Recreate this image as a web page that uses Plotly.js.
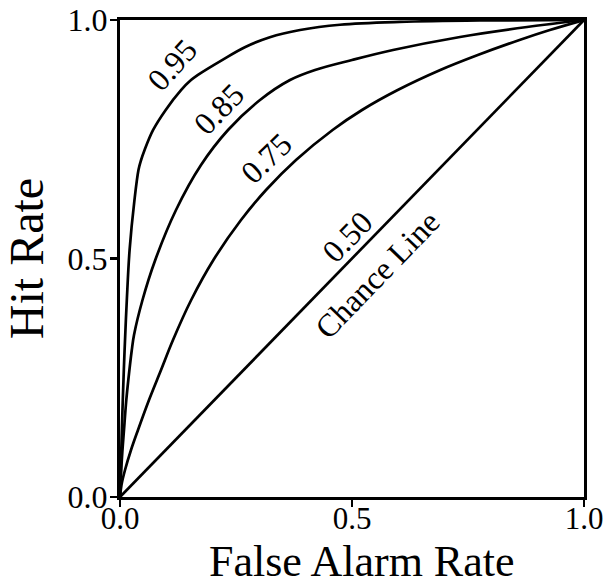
<!DOCTYPE html>
<html>
<head>
<meta charset="utf-8">
<script src="https://cdn.plot.ly/plotly-3.0.1.min.js"></script>
<style>html,body{margin:0;padding:0;background:#fff;}#chart{width:609px;height:586px;}</style>
</head>
<body>
<div id="chart"></div>
<script>
// False alarm rate (x) and hit rate (y), one pair of arrays per curve
const fa95  = [0, 0.0028, 0.006, 0.0099, 0.0147, 0.0207, 0.0312, 0.0399, 0.0453, 0.0528, 0.0711, 0.0981, 0.1315, 0.153, 0.168, 0.220, 0.269, 0.323, 0.388, 0.474, 0.603, 0.776, 1];
const hit95 = [0, 0.0985, 0.203, 0.308, 0.413, 0.518, 0.623, 0.686, 0.706, 0.727, 0.769, 0.811, 0.853, 0.874, 0.885, 0.916, 0.943, 0.964, 0.979, 0.990, 0.996, 0.999, 1];

const fa85  = [0, 0.0039, 0.0086, 0.0136, 0.0179, 0.0254, 0.0302, 0.0485, 0.0760, 0.1207, 0.1746, 0.2328, 0.3017, 0.3664, 0.4203, 0.5, 0.5884, 0.7328, 0.8772, 1];
const hit85 = [0, 0.0776, 0.1405, 0.2034, 0.2453, 0.3082, 0.3396, 0.4130, 0.4969, 0.6017, 0.6960, 0.7694, 0.8323, 0.8742, 0.8952, 0.9161, 0.9371, 0.9644, 0.9853, 1];

const fa75  = [0, 0.0032, 0.0108, 0.0237, 0.0388, 0.0625, 0.0884, 0.1142, 0.1534, 0.2013, 0.2608, 0.3147, 0.3793, 0.4582, 0.5216, 0.5985, 0.6903, 0.7711, 0.8610, 0.9263, 1];
const hit75 = [0, 0.0252, 0.0566, 0.0985, 0.1405, 0.2034, 0.2662, 0.3291, 0.4130, 0.4969, 0.5807, 0.6436, 0.7065, 0.7694, 0.8113, 0.8532, 0.8952, 0.9266, 0.9581, 0.9790, 1];

const fa50  = [0, 1];
const hit50 = [0, 1];

const tickVals = [0, 0.5, 1];
const tickText = ["0.0", "0.5", "1.0"];

const labelText  = ["0.95", "0.85", "0.75", "0.50", "Chance Line"];
const labelX     = [0.112, 0.213, 0.315, 0.489, 0.556];
const labelY     = [0.906, 0.813, 0.711, 0.546, 0.467];
const labelAngle = [-48, -46, -44, -46, -46];

const xTitle = "False Alarm Rate";
const yTitle = "Hit Rate";

const FONT = "Liberation Serif, Times New Roman, serif";
const lineStyle = {color: "#000", width: 2.7, shape: "spline", smoothing: 1};

const traces = [
  {x: fa95, y: hit95},
  {x: fa85, y: hit85},
  {x: fa75, y: hit75},
  {x: fa50, y: hit50}
].map(t => Object.assign({type: "scatter", mode: "lines", line: lineStyle, hoverinfo: "skip"}, t));

const annotations = labelText.map((t, i) => ({
  text: t, x: labelX[i], y: labelY[i], xref: "x", yref: "y",
  showarrow: false, textangle: labelAngle[i],
  xanchor: "center", yanchor: "middle",
  font: {family: FONT, size: 32, color: "#000"}
}));
annotations.push({
  text: xTitle, xref: "paper", yref: "paper", x: 0.5226, y: -0.1915,
  xanchor: "center", yanchor: "bottom", showarrow: false,
  font: {family: FONT, size: 44, color: "#000"}
});

const axisCommon = {
  range: [0, 1], tickvals: tickVals, ticktext: tickText,
  showgrid: false, zeroline: false,
  showline: true, linecolor: "#000", linewidth: 3, mirror: true,
  ticks: "outside", ticklen: 7, tickwidth: 2.5, tickcolor: "#000",
  tickfont: {family: FONT, size: 32, color: "#000"},
  automargin: false, fixedrange: true
};

const layout = {
  width: 609, height: 586,
  margin: {l: 120, r: 25, t: 20, b: 89},
  paper_bgcolor: "#fff", plot_bgcolor: "#fff",
  showlegend: false,
  xaxis: Object.assign({}, axisCommon, {ticklabelstandoff: -15, tickfont: {family: FONT, size: 31, color: "#000"}}),
  yaxis: Object.assign({}, axisCommon, {
    ticklabelstandoff: -4,
    title: {text: yTitle, font: {family: FONT, size: 48, color: "#000"}, standoff: 16}
  }),
  annotations: annotations
};

Plotly.newPlot("chart", traces, layout, {displayModeBar: false, staticPlot: true});
</script>
</body>
</html>
